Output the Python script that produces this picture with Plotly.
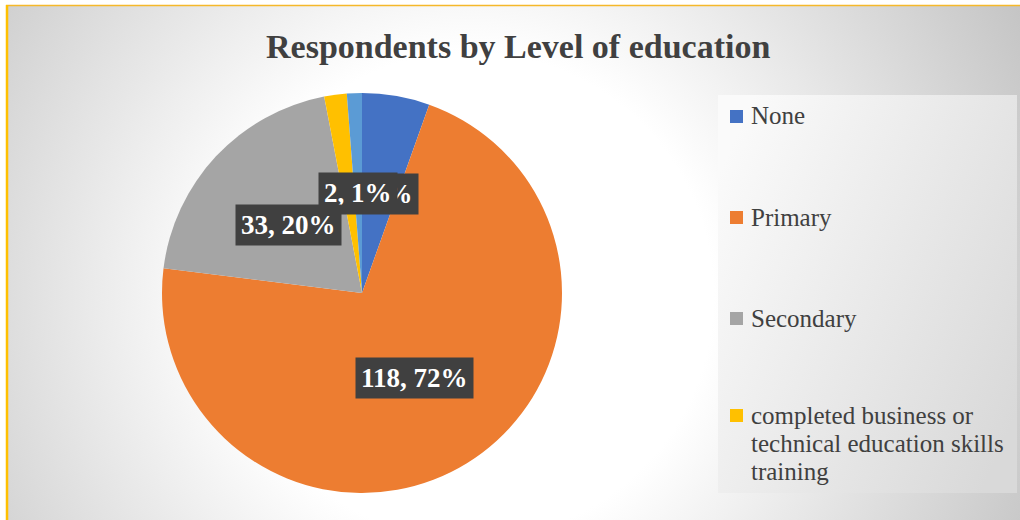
import math, base64
import plotly.graph_objects as go

# ---- data ----
categories = ["None", "Primary", "Secondary",
              "completed business or technical education skills training", "Tertiary"]
legend_labels = ["None", "Primary", "Secondary",
                 "completed business or<br>technical education skills<br>training"]
values = [9, 118, 33, 3, 2]
colors = ["#4472C4", "#ED7D31", "#A5A5A5", "#FFC000", "#5B9BD5"]
show_label = [True, True, True, False, True]
title_text = "Respondents by Level of education"

W, H = 1020, 520
# pie geometry (pixels)
CX, CY, R = 362, 293, 200

def px(x):
    return x / W

def py(y):
    return 1 - y / H

# background SVG (radial gradient + legend box)
svg = f'''<svg xmlns="http://www.w3.org/2000/svg" width="1012" height="514" viewBox="0 0 1012 514" preserveAspectRatio="none">
<defs>
<radialGradient id="bg" gradientUnits="userSpaceOnUse" cx="462" cy="290" r="640">
<stop offset="0" stop-color="#ffffff"/>
<stop offset="0.38" stop-color="#ffffff"/>
<stop offset="1" stop-color="#c2c2c2"/>
</radialGradient>
<linearGradient id="lg" x1="0" y1="0.2" x2="1" y2="0.8">
<stop offset="0" stop-color="#fafafa"/>
<stop offset="1" stop-color="#d9d9d9"/>
</linearGradient>
<filter id="sh" x="-0.1" y="-0.1" width="1.3" height="1.3"><feGaussianBlur stdDeviation="2"/></filter>
</defs>
<rect x="0" y="0" width="1012" height="514" fill="url(#bg)"/>
<rect x="710" y="89" width="299" height="398" fill="url(#lg)"/>
</svg>'''
svg_uri = "data:image/svg+xml;base64," + base64.b64encode(svg.encode()).decode()

fig = go.Figure()
fig.add_trace(go.Pie(
    labels=categories, values=values, sort=False, direction="clockwise",
    rotation=0, marker=dict(colors=colors, line=dict(width=0)),
    textinfo="none", hoverinfo="label+value+percent", showlegend=False,
    domain=dict(x=[px(CX - R), px(CX + R)], y=[py(CY + R), py(CY - R)]),
))

# data labels computed from slice angles
total = sum(values)
annotations = []
cum = 0
label_items = []
for i, v in enumerate(values):
    mid = (cum + v / 2) / total * 2 * math.pi
    cum += v
    if not show_label[i]:
        continue
    lx = CX + 0.5 * R * math.sin(mid)
    ly = CY - 0.5 * R * math.cos(mid)
    pct = round(v / total * 100)
    label_items.append((i, lx, ly, f"{v}, {pct}%"))
# draw None first so the small slice label overlaps it (as in the original)
order = [0, 4, 2, 1]
for idx in order:
    for (i, lx, ly, t) in label_items:
        if i == idx:
            annotations.append(dict(
                x=px(lx), y=py(ly), xref="paper", yref="paper", text=t,
                showarrow=False, xanchor="center", yanchor="middle",
                font=dict(family="Liberation Serif", size=27, color="white", weight="bold"),
                bgcolor="#404040", borderpad=5))

# title
annotations.append(dict(
    x=px(518), y=py(46), xref="paper", yref="paper", text=f"<b>{title_text}</b>",
    showarrow=False, xanchor="center", yanchor="middle",
    font=dict(family="Liberation Serif", size=34, color="#404040")))

# manual legend
shapes = []
leg_y = [116, 217, 318, 415]
line_h = 28
for i, lab in enumerate(legend_labels):
    yc = leg_y[i]
    shapes.append(dict(type="rect", xref="paper", yref="paper",
                       x0=px(730), x1=px(743), y0=py(yc + 7), y1=py(yc - 6),
                       fillcolor=colors[i], line=dict(width=0)))
    for k, part in enumerate(lab.split("<br>")):
        annotations.append(dict(
            x=px(749), y=py(yc + k * line_h), xref="paper", yref="paper", text=part,
            showarrow=False, xanchor="left", yanchor="middle", align="left",
            font=dict(family="Liberation Serif", size=25, color="#404040")))

# border lines (top and left)
shapes.append(dict(type="line", xref="paper", yref="paper",
                   x0=px(6), x1=1, y0=py(5.5), y1=py(5.5),
                   line=dict(color="#F5B82A", width=1.5)))
shapes.append(dict(type="line", xref="paper", yref="paper",
                   x0=px(7), x1=px(7), y0=py(5), y1=0,
                   line=dict(color="#FFC000", width=2.5)))

fig.update_layout(
    width=W, height=H, margin=dict(l=0, r=0, t=0, b=0),
    paper_bgcolor="white", plot_bgcolor="white",
    annotations=annotations, shapes=shapes,
    images=[dict(source=svg_uri, xref="paper", yref="paper",
                 x=px(8), y=py(6), sizex=1012 / W, sizey=514 / H,
                 xanchor="left", yanchor="top", sizing="stretch", layer="below")],
)

fig.write_html("out.html")
